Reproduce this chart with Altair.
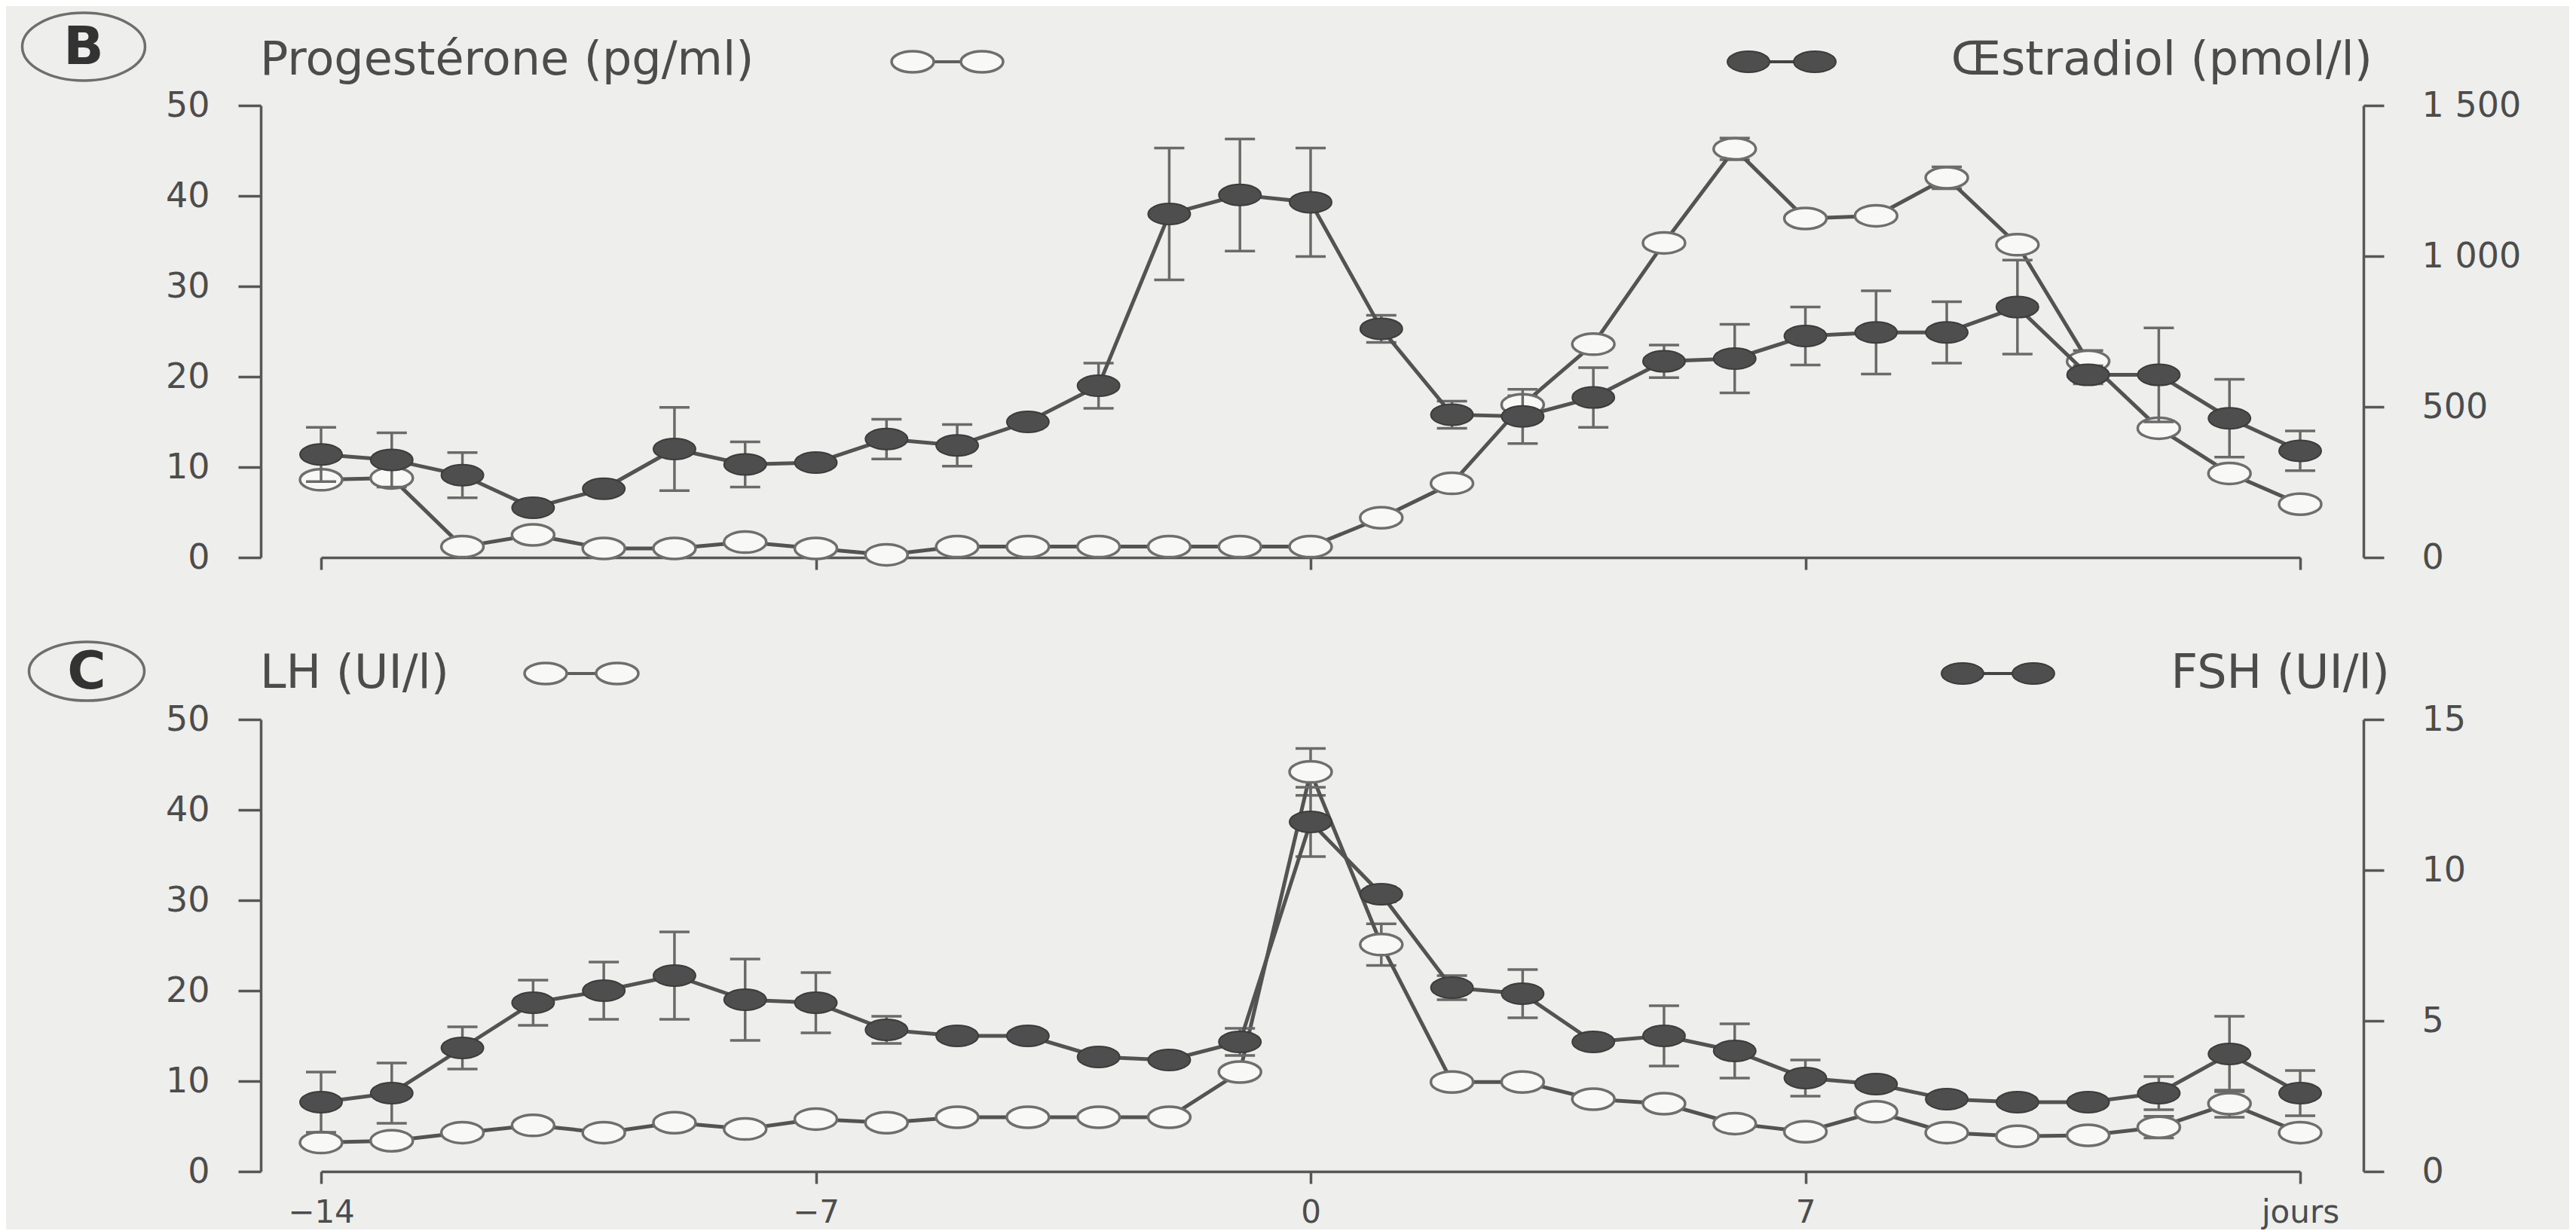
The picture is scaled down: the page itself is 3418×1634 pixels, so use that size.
import altair as alt
import pandas as pd

# ---------------- data ----------------
days = list(range(-14, 15))

# panel B
progesterone = [8.6, 8.8, 1.2, 2.5, 1.0, 1.0, 1.7, 1.0, 0.3, 1.2, 1.2, 1.2, 1.2, 1.2, 1.2,
                4.4, 8.2, 16.9, 23.6, 34.8, 45.2, 37.5, 37.8, 42.0, 34.6, 21.7, 14.3, 9.3, 5.9]
progesterone_err = [0.4, 0.4, 0.3, 0.3, 0.3, 0.3, 0.3, 0.3, 0.3, 0.3, 0.3, 0.3, 0.3, 0.3, 0.3,
                    0.3, 0.3, 1.0, 0.5, 0.5, 1.2, 0.5, 0.5, 1.2, 0.5, 1.2, 0.5, 0.5, 0.5]
estradiol = [342, 324, 273, 165, 228, 360, 309, 315, 393, 372, 450, 570, 1140, 1203, 1179,
             759, 474, 468, 531, 651, 660, 735, 747, 747, 831, 606, 606, 462, 354]
estradiol_err = [90, 90, 75, 15, 15, 138, 75, 15, 66, 69, 24, 75, 219, 186, 180,
                 45, 45, 90, 99, 54, 114, 96, 138, 102, 156, 30, 156, 129, 66]

# panel C
lh = [3.2, 3.4, 4.3, 5.1, 4.3, 5.4, 4.7, 5.8, 5.4, 6.0, 6.0, 6.0, 6.0, 11.0, 44.2,
      25.1, 9.9, 9.9, 8.0, 7.5, 5.3, 4.4, 6.6, 4.3, 3.9, 4.0, 4.9, 7.5, 4.3]
lh_err = [0.4, 0.4, 0.4, 0.4, 0.4, 0.4, 0.4, 0.4, 0.4, 0.4, 0.4, 0.4, 0.4, 0.5, 2.6,
          2.3, 0.5, 0.4, 0.4, 0.4, 0.4, 0.4, 0.4, 0.4, 0.4, 0.4, 1.2, 1.5, 0.4]
fsh = [2.3, 2.6, 4.1, 5.6, 6.0, 6.5, 5.7, 5.6, 4.7, 4.5, 4.5, 3.8, 3.7, 4.3, 11.6,
       9.2, 6.1, 5.9, 4.3, 4.5, 4.0, 3.1, 2.9, 2.4, 2.3, 2.3, 2.6, 3.9, 2.6]
fsh_err = [1.0, 1.0, 0.7, 0.75, 0.95, 1.45, 1.35, 1.0, 0.45, 0.15, 0.15, 0.15, 0.15, 0.45, 1.15,
           0.25, 0.4, 0.8, 0.15, 1.0, 0.9, 0.6, 0.15, 0.15, 0.15, 0.15, 0.55, 1.25, 0.75]

x_ticks = [-14, -7, 0, 7, 14]
x_labels = ["\u221214", "\u22127", "0", "7", "jours"]
b_left_ticks = [0, 10, 20, 30, 40, 50]
b_right_ticks = [0, 500, 1000, 1500]
c_left_ticks = [0, 10, 20, 30, 40, 50]
c_right_ticks = [0, 5, 10, 15]

# ---------------- style ----------------
FONT = "DejaVu Sans"
BG = "#eeeeec"
INK = "#4c4c4c"
AXIS = "#575757"
ERR = "#6a6a6a"
W, H = 2626, 600
MARKER = "M-1,0A1,0.5,0,1,1,1,0A1,0.5,0,1,1,-1,0Z"
MSIZE = 56 ** 2
OPEN = dict(fill="#f8f8f6", stroke="#6e6e6e", strokeWidth=3.5)
FILLED = dict(fill="#4e4e4e", stroke="#3c3c3c", strokeWidth=2)
TITLE_SIZE = 62

xlab_expr = " : ".join(
    f"datum.value == {v} ? '{t}'" for v, t in zip(x_ticks, x_labels)
) + " : datum.label"


def ellipse_path(ratio):
    return f"M-1,0A1,{ratio},0,1,1,1,0A1,{ratio},0,1,1,-1,0Z"


def x_axis(show_labels):
    return alt.Axis(values=x_ticks, labels=show_labels, labelExpr=xlab_expr, title=None,
                    tickSize=16, labelPadding=18, labelFlush=False, offset=0,
                    domainColor=AXIS, domainWidth=3.5, tickColor=AXIS, tickWidth=3.5,
                    labelFont=FONT, labelFontSize=42, labelColor=INK, grid=False)


def y_axis(values, orient, label_expr=None):
    kw = dict(values=values, orient=orient, title=None, grid=False,
              domainColor=AXIS, domainWidth=3.5, tickColor=AXIS, tickWidth=3.5,
              labelFont=FONT, labelFontSize=46, labelColor=INK)
    if orient == "left":
        kw.update(offset=80, tickSize=30, labelPadding=38)
    else:
        kw.update(offset=84, tickSize=27, labelPadding=50)
    if label_expr:
        kw["labelExpr"] = label_expr
    return alt.Axis(**kw)


def series(values, errs, domain, yax, xax, style):
    df = pd.DataFrame({
        "day": days,
        "value": values,
        "lo": [v - e for v, e in zip(values, errs)],
        "hi": [v + e for v, e in zip(values, errs)],
    })
    xs = alt.Scale(domain=[-14, 14], nice=False, zero=False)
    ys = alt.Scale(domain=domain, nice=False, zero=False)
    X = alt.X("day:Q", scale=xs, axis=xax)
    base = alt.Chart(df)
    bars = base.mark_rule(color=ERR, strokeWidth=3.5).encode(
        x=X, y=alt.Y("lo:Q", scale=ys, axis=yax), y2="hi:Q")
    cap_lo = base.mark_tick(orient="horizontal", size=40, thickness=3.5, color=ERR, opacity=1).encode(
        x=X, y=alt.Y("lo:Q", scale=ys, axis=yax))
    cap_hi = base.mark_tick(orient="horizontal", size=40, thickness=3.5, color=ERR, opacity=1).encode(
        x=X, y=alt.Y("hi:Q", scale=ys, axis=yax))
    line = base.mark_line(color="#535353", strokeWidth=5).encode(
        x=X, y=alt.Y("value:Q", scale=ys, axis=yax))
    pts = base.mark_point(shape=MARKER, size=MSIZE, filled=True, opacity=1, **style).encode(
        x=X, y=alt.Y("value:Q", scale=ys, axis=yax))
    return alt.layer(bars, cap_lo, cap_hi, line, pts)


def annotations(letter, ell, left_title, left_title_y, left_sym_x, sym_y,
                right_title, right_title_x, right_sym_x):
    note = alt.Chart(pd.DataFrame({"n": [0]}))
    ex, ey, ew, eh = ell
    layers = [
        note.mark_point(shape=ellipse_path(round(eh / ew, 3)), size=ew ** 2, filled=False,
                        stroke="#6e6e6e", strokeWidth=3.5, opacity=1).encode(
            x=alt.value(ex), y=alt.value(ey)),
        note.mark_text(text=letter, font=FONT, fontSize=70, fontWeight="bold", color="#333333",
                       align="center", baseline="middle").encode(
            x=alt.value(ex), y=alt.value(ey + 2)),
        note.mark_text(text=left_title, font=FONT, fontSize=TITLE_SIZE, color=INK,
                       align="left", baseline="alphabetic").encode(
            x=alt.value(-81), y=alt.value(left_title_y)),
        note.mark_text(text=right_title, font=FONT, fontSize=TITLE_SIZE, color=INK,
                       align="right", baseline="alphabetic").encode(
            x=alt.value(right_title_x), y=alt.value(left_title_y)),
        note.mark_rule(color="#5e5e5e", strokeWidth=4).encode(
            x=alt.value(left_sym_x[0]), x2=alt.value(left_sym_x[1]), y=alt.value(sym_y)),
        note.mark_rule(color="#444444", strokeWidth=4).encode(
            x=alt.value(right_sym_x[0]), x2=alt.value(right_sym_x[1]), y=alt.value(sym_y)),
    ]
    for sx in left_sym_x:
        layers.append(note.mark_point(shape=MARKER, size=MSIZE, filled=True, opacity=1, **OPEN).encode(
            x=alt.value(sx), y=alt.value(sym_y)))
    for sx in right_sym_x:
        layers.append(note.mark_point(shape=MARKER, size=MSIZE, filled=True, opacity=1, **FILLED).encode(
            x=alt.value(sx), y=alt.value(sym_y)))
    return layers


space_thousands = "replace(format(datum.value, ','), ',', ' ')"

xb = x_axis(False)
xc = x_axis(True)

panel_b = alt.layer(
    series(progesterone, progesterone_err, [0, 50], y_axis(b_left_ticks, "left"), xb, OPEN),
    series(estradiol, estradiol_err, [0, 1500], y_axis(b_right_ticks, "right", space_thousands), xb, FILLED),
    *annotations("B", (-315, -78, 163, 90), "Progest\u00e9rone (pg/ml)", -41, [785, 877], -58,
                 "\u0152stradiol (pmol/l)", 2722, [1894, 1982]),
).resolve_scale(y="independent").properties(width=W, height=H)

panel_c = alt.layer(
    series(lh, lh_err, [0, 50], y_axis(c_left_ticks, "left"), xc, OPEN),
    series(fsh, fsh_err, [0, 15], y_axis(c_right_ticks, "right"), xc, FILLED),
    *annotations("C", (-311, -64, 153, 78), "LH (UI/l)", -42, [298, 393], -61,
                 "FSH (UI/l)", 2745, [2178, 2272]),
).resolve_scale(y="independent").properties(width=W, height=H)

chart = alt.vconcat(panel_b, panel_c, spacing=81).properties(
    padding={"left": 14, "top": 2, "right": 64, "bottom": 2},
    background=BG,
).configure_view(stroke=None)

chart.save("out.html", embed_options={"renderer": "svg", "actions": False})
